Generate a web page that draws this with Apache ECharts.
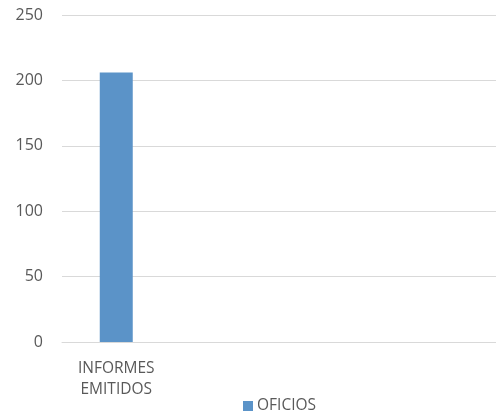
<!DOCTYPE html>
<html><head><meta charset="utf-8">
<script src="https://cdn.jsdelivr.net/npm/echarts@6/dist/echarts.min.js"></script>
<style>html,body{margin:0;padding:0;background:#fff}#c{width:496px;height:417px}</style>
</head><body><div id="c"></div>
<script>
const categories = ["INFORMES\nEMITIDOS", "", "", ""];
const seriesName = "OFICIOS";
const values = [206, null, null, null];
const yMin = 0, yMax = 250, yInterval = 50;

const chart = echarts.init(document.getElementById('c'), null, {renderer: 'canvas'});
chart.setOption({
  animation: false,
  textStyle: {fontFamily: 'Open Sans'},
  grid: {left: 62, right: 0, top: 15, bottom: 75},
  legend: {
    data: [seriesName], top: 393, left: 238, itemWidth: 10, itemHeight: 10, itemGap: 4,
    icon: 'rect',
    textStyle: {color: '#595959', fontSize: 15.5, fontFamily: 'Open Sans', padding: [0, 0, 0, -1]}
  },
  xAxis: {
    type: 'category', data: categories,
    axisLine: {lineStyle: {color: '#d9d9d9'}},
    axisTick: {show: false},
    axisLabel: {color: '#595959', fontSize: 15.5, lineHeight: 21, margin: 16, interval: 0}
  },
  yAxis: {
    type: 'value', min: yMin, max: yMax, interval: yInterval,
    axisLine: {show: false}, axisTick: {show: false},
    splitLine: {lineStyle: {color: '#d9d9d9'}},
    axisLabel: {color: '#595959', fontSize: 16, margin: 19}
  },
  series: [{
    name: seriesName, type: 'bar', data: values, barWidth: 33,
    itemStyle: {color: '#5b93c8'}
  }]
});
</script></body></html>
